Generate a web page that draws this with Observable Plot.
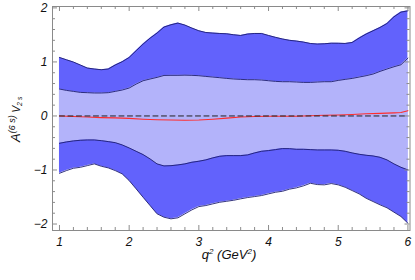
<!DOCTYPE html>
<html>
<head>
<meta charset="utf-8">
<script src="https://cdn.jsdelivr.net/npm/d3@7"></script>
<script src="https://cdn.jsdelivr.net/npm/@observablehq/plot@0.6"></script>
<style>
  html, body { margin: 0; padding: 0; background: #fff; }
</style>
</head>
<body>
<div id="chart"></div>
<script>
// ---- data ----
const q = [1.0,1.1,1.2,1.3,1.4,1.5,1.6,1.7,1.8,1.9,2.0,2.1,2.2,2.3,2.4,2.5,2.6,2.7,2.8,2.9,3.0,3.1,3.2,3.3,3.4,3.5,3.6,3.7,3.8,3.9,4.0,4.1,4.2,4.3,4.4,4.5,4.6,4.7,4.8,4.9,5.0,5.1,5.2,5.3,5.4,5.5,5.6,5.7,5.8,5.9,6.0];
const outerUpper = [1.083,1.04,0.998,0.943,0.887,0.869,0.856,0.869,0.943,1.004,1.083,1.207,1.33,1.44,1.534,1.645,1.688,1.719,1.682,1.627,1.577,1.545,1.534,1.527,1.521,1.503,1.49,1.516,1.527,1.527,1.49,1.455,1.425,1.40,1.386,1.368,1.342,1.331,1.336,1.347,1.346,1.342,1.36,1.442,1.516,1.577,1.638,1.712,1.835,1.922,1.946];
const innerUpper = [0.499,0.473,0.455,0.436,0.431,0.425,0.425,0.431,0.455,0.48,0.517,0.59,0.652,0.684,0.714,0.75,0.752,0.752,0.755,0.752,0.745,0.732,0.72,0.708,0.695,0.684,0.677,0.671,0.671,0.665,0.652,0.64,0.634,0.634,0.628,0.621,0.621,0.628,0.634,0.634,0.658,0.677,0.695,0.72,0.745,0.776,0.825,0.869,0.911,0.948,1.072];
const innerLower = [-0.506,-0.481,-0.462,-0.45,-0.444,-0.444,-0.457,-0.475,-0.494,-0.536,-0.592,-0.654,-0.715,-0.795,-0.887,-0.925,-0.92,-0.906,-0.887,-0.857,-0.838,-0.813,-0.776,-0.746,-0.734,-0.734,-0.734,-0.721,-0.684,-0.654,-0.641,-0.623,-0.604,-0.605,-0.617,-0.617,-0.623,-0.629,-0.629,-0.629,-0.635,-0.654,-0.684,-0.709,-0.727,-0.74,-0.765,-0.813,-0.887,-0.95,-0.998];
const outerLower = [-1.061,-1.011,-0.968,-0.95,-0.919,-0.887,-0.931,-0.961,-1.011,-1.072,-1.196,-1.349,-1.505,-1.658,-1.811,-1.874,-1.904,-1.885,-1.811,-1.738,-1.677,-1.658,-1.627,-1.597,-1.579,-1.56,-1.534,-1.51,-1.492,-1.473,-1.442,-1.412,-1.394,-1.355,-1.331,-1.294,-1.246,-1.27,-1.275,-1.251,-1.275,-1.32,-1.381,-1.442,-1.523,-1.584,-1.645,-1.70,-1.781,-1.861,-1.985];
const qCentral = [1.0,1.2,1.4,1.6,1.8,2.0,2.2,2.4,2.6,2.8,3.0,3.2,3.4,3.6,3.8,4.0,4.2,4.4,4.6,4.8,5.0,5.2,5.4,5.6,5.8,5.9,6.0];
const central = [0,-0.01,-0.02,-0.03,-0.035,-0.045,-0.06,-0.07,-0.075,-0.08,-0.075,-0.06,-0.04,-0.02,-0.01,-0.005,-0.005,-0.005,0.005,0.012,0.018,0.028,0.04,0.048,0.058,0.065,0.098];
const zeroQ = [1, 6];
const zeroV = [0, 0];
const xMajor = [1,2,3,4,5,6];
const xMinor = [1.2,1.4,1.6,1.8,2.2,2.4,2.6,2.8,3.2,3.4,3.6,3.8,4.2,4.4,4.6,4.8,5.2,5.4,5.6,5.8];
const yMajor = [-2,-1,0,1,2];
const yMinor = [-1.8,-1.6,-1.4,-1.2,-0.8,-0.6,-0.4,-0.2,0.2,0.4,0.6,0.8,1.2,1.4,1.6,1.8];
const yTickLabels = ["\u22122","\u22121","0","1","2"];

// ---- layout / style ----
const W = 415, H = 280;
const mL = 52, mR = 5.5, mT = 6, mB = 50;
const xDom = [0.9, 6.03];
const yDom = [-2.12, 2.026];
const dxPx = (xDom[1] - xDom[0]) / (W - mL - mR);
const dyPx = (yDom[1] - yDom[0]) / (H - mT - mB);
const majLen = 5, minLen = 3;
const tickColor = "#8c8c8c";
const edge = "#1e1e70";

const bands = q.map((d, i) => ({q: d, ou: outerUpper[i], iu: innerUpper[i], il: innerLower[i], ol: outerLower[i]}));
const mid = qCentral.map((d, i) => ({q: d, v: central[i]}));
const zero = zeroQ.map((d, i) => ({q: d, v: zeroV[i]}));

const svg = Plot.plot({
  width: W, height: H,
  marginLeft: mL, marginRight: mR, marginTop: mT, marginBottom: mB,
  style: {fontFamily: "'Liberation Sans', Arial, sans-serif", fontSize: "12px", background: "#fff"},
  x: {domain: xDom, axis: null},
  y: {domain: yDom, axis: null},
  marks: [
    Plot.areaY(bands, {x: "q", y1: "ol", y2: "ou", fill: "#6262fc"}),
    Plot.areaY(bands, {x: "q", y1: "il", y2: "iu", fill: "#b3b3fa"}),
    Plot.line(bands, {x: "q", y: "ou", stroke: edge, strokeWidth: 0.9}),
    Plot.line(bands, {x: "q", y: "iu", stroke: edge, strokeWidth: 0.9}),
    Plot.line(bands, {x: "q", y: "il", stroke: edge, strokeWidth: 0.9}),
    Plot.line(bands, {x: "q", y: "ol", stroke: edge, strokeWidth: 0.9}),
    Plot.line(mid, {x: "q", y: "v", stroke: "#ff2d2d", strokeWidth: 1.1}),
    Plot.line(zero, {x: "q", y: "v", stroke: "#222", strokeWidth: 1, strokeDasharray: "5,3.5"}),
    // frame ticks
    Plot.ruleX(xMajor, {y1: yDom[0], y2: yDom[0] + majLen * dyPx, stroke: tickColor}),
    Plot.ruleX(xMinor, {y1: yDom[0], y2: yDom[0] + minLen * dyPx, stroke: tickColor}),
    Plot.ruleX(xMajor, {y1: yDom[1], y2: yDom[1] - majLen * dyPx, stroke: tickColor}),
    Plot.ruleX(xMinor, {y1: yDom[1], y2: yDom[1] - minLen * dyPx, stroke: tickColor}),
    Plot.ruleY(yMajor, {x1: xDom[0], x2: xDom[0] + majLen * dxPx, stroke: tickColor}),
    Plot.ruleY(yMinor, {x1: xDom[0], x2: xDom[0] + minLen * dxPx, stroke: tickColor}),
    Plot.ruleY(yMajor, {x1: xDom[1], x2: xDom[1] - majLen * dxPx, stroke: tickColor}),
    Plot.ruleY(yMinor, {x1: xDom[1], x2: xDom[1] - minLen * dxPx, stroke: tickColor}),
    Plot.frame({stroke: "#8a8a8a", strokeWidth: 1}),
    Plot.axisX(xMajor, {anchor: "bottom", label: null, tickSize: 0, tickPadding: 6.5, fontSize: 12, fontStyle: "italic", fill: "#111"}),
    Plot.axisY(yMajor, {anchor: "left", label: null, tickSize: 0, tickPadding: 5, fontSize: 12, fontStyle: "italic", fill: "#111",
      tickFormat: (d) => yTickLabels[yMajor.indexOf(d)]})
  ]
});

const s = d3.select(svg);
// x-axis title: q^2 (GeV^2)
const xt = s.append("text")
  .attr("x", 229).attr("y", 259)
  .attr("text-anchor", "middle")
  .attr("font-style", "italic")
  .attr("font-size", 13)
  .attr("fill", "#111");
xt.append("tspan").text("q");
xt.append("tspan").attr("font-size", 8).attr("dy", -5).text("2");
xt.append("tspan").attr("dy", 5).text(" (GeV");
xt.append("tspan").attr("font-size", 8).attr("dy", -5).text("2");
xt.append("tspan").attr("dy", 5).text(")");

// y-axis title: A^(6s)_{V2s}
const yt = s.append("text")
  .attr("transform", "translate(20,142) rotate(-90)")
  .attr("text-anchor", "start")
  .attr("font-style", "italic")
  .attr("font-size", 13)
  .attr("fill", "#111");
yt.append("tspan").text("A");
yt.append("tspan").attr("font-size", 9).attr("dy", -5).text("(6 s)");
yt.append("tspan").attr("font-size", 10).attr("dy", 5).text(" V");
yt.append("tspan").attr("font-size", 7).attr("dy", 2).text("2 s");

document.getElementById("chart").appendChild(svg);
</script>
</body>
</html>
